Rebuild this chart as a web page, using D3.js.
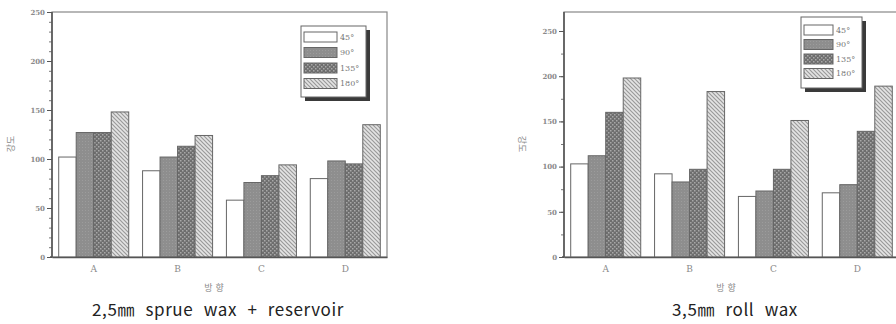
<!DOCTYPE html>
<html>
<head>
<meta charset="utf-8">
<script src="https://cdn.jsdelivr.net/npm/d3@7"></script>
<style>
	body { margin: 0; background: #fff; }
	svg { display: block; }
</style>
</head>
<body>
<div id="chart"></div>
<script>
// categories and series
const categories = ['A', 'B', 'C', 'D'];
const angles = ['45°', '90°', '135°', '180°'];

// 2.5mm sprue wax + reservoir
const sprue45 = [102, 88, 58, 80];
const sprue90 = [127, 102, 76, 98];
const sprue135 = [127, 113, 83, 95];
const sprue180 = [148, 124, 94, 135];

// 3.5mm roll wax
const roll45 = [103, 92, 67, 71];
const roll90 = [112, 83, 73, 80];
const roll135 = [160, 97, 97, 139];
const roll180 = [198, 183, 151, 189];

const yTicks = [0, 50, 100, 150, 200, 250];
const yTitle = '강도';
const xTitle = '방향';
const captions = ['2,5㎜ sprue wax + reservoir', '3,5㎜ roll wax'];

const svg = d3.select('#chart').append('svg')
	.attr('width', 896).attr('height', 324);

// fill patterns, one per angle
const defs = svg.append('defs');

let p = defs.append('pattern').attr('id', 'pat90').attr('patternUnits', 'userSpaceOnUse')
	.attr('width', 3).attr('height', 3);
p.append('rect').attr('width', 3).attr('height', 3).attr('fill', '#8e8e8e');
p.append('rect').attr('width', 1).attr('height', 1).attr('fill', '#9c9c9c');

p = defs.append('pattern').attr('id', 'pat135').attr('patternUnits', 'userSpaceOnUse')
	.attr('width', 4).attr('height', 4);
p.append('rect').attr('width', 4).attr('height', 4).attr('fill', '#6e6e6e');
p.append('rect').attr('x', 0).attr('y', 0).attr('width', 1.5).attr('height', 1.5).attr('fill', '#a8a8a8');
p.append('rect').attr('x', 2).attr('y', 2).attr('width', 1.5).attr('height', 1.5).attr('fill', '#a8a8a8');

p = defs.append('pattern').attr('id', 'pat180').attr('patternUnits', 'userSpaceOnUse')
	.attr('width', 4).attr('height', 4);
p.append('rect').attr('width', 4).attr('height', 4).attr('fill', '#e4e4e4');
p.append('path').attr('d', 'M-1,-1 L5,5 M-1,3 L1,5 M3,-1 L5,1')
	.attr('stroke', '#9a9a9a').attr('stroke-width', 1.2);

const fills = ['#ffffff', 'url(#pat90)', 'url(#pat135)', 'url(#pat180)'];

const charts = [
	{
		series: [sprue45, sprue90, sprue135, sprue180],
		left: 52, top: 12, width: 335, height: 245, max: 250, minor: 10,
		legend: { x: 301, y: 26, w: 65, h: 71, sw: 33, row: 15.5, first: 11 },
		yTitleX: 11, rotate: -90, caption: captions[0], captionX: 218,
	},
	{
		series: [roll45, roll90, roll135, roll180],
		left: 564, top: 12, width: 335, height: 245, max: 271, minor: 25,
		legend: { x: 801, y: 17, w: 61, h: 71, sw: 29, row: 14.5, first: 13 },
		yTitleX: 522, rotate: 90, caption: captions[1], captionX: 735,
	},
];

const ink = '#555';
const label = '#8a8a8a';

charts.forEach((c) => {
	const g = svg.append('g').attr('transform', `translate(${c.left}, ${c.top})`);

	const x = d3.scaleBand().domain(categories).range([0, c.width]).paddingInner(0.165).paddingOuter(0.08);
	const xs = d3.scaleBand().domain(angles).range([0, x.bandwidth()]);
	const y = d3.scaleLinear().domain([0, c.max]).range([c.height, 0]);

	// frame
	g.append('rect').attr('width', c.width).attr('height', c.height)
		.attr('fill', 'none').attr('stroke', '#888').attr('stroke-width', 1.2);

	// bars
	c.series.forEach((vals, si) => {
		g.append('g').selectAll('rect').data(vals).join('rect')
			.attr('x', (d, i) => x(categories[i]) + xs(angles[si]))
			.attr('y', (d) => y(d))
			.attr('width', xs.bandwidth())
			.attr('height', (d) => c.height - y(d))
			.attr('fill', fills[si])
			.attr('stroke', '#666').attr('stroke-width', 1);
	});

	// y axis
	const minorTicks = d3.range(0, c.max + 0.1, c.minor);
	const ax = g.append('g').call(d3.axisLeft(y).tickValues(minorTicks).tickSize(3).tickFormat(''));
	ax.select('.domain').remove();
	ax.selectAll('line').attr('stroke', '#777');
	const ay = g.append('g').call(d3.axisLeft(y).tickValues(yTicks).tickSize(5).tickPadding(2));
	ay.select('.domain').attr('stroke', ink).attr('stroke-width', 1.6);
	ay.selectAll('line').attr('stroke', ink);
	ay.selectAll('text').attr('fill', label).attr('font-size', 7)
		.attr('font-family', 'DejaVu Serif').attr('font-weight', 'bold');
	ay.select('.domain').attr('d', `M-2,${c.height}H0V0`);

	// x axis
	const axx = g.append('g').attr('transform', `translate(0, ${c.height})`)
		.call(d3.axisBottom(x).tickSize(0).tickPadding(9));
	axx.select('.domain').attr('stroke', ink).attr('stroke-width', 1.6);
	axx.selectAll('text').attr('fill', label).attr('font-size', 9)
		.attr('font-family', 'DejaVu Serif');

	// axis titles
	g.append('text')
		.attr('x', c.width / 2 - 4).attr('y', c.height + 34)
		.attr('text-anchor', 'middle').attr('fill', label)
		.attr('font-family', 'Noto Sans CJK KR').attr('font-size', 9)
		.attr('letter-spacing', 3)
		.text(xTitle);

	svg.append('text')
		.attr('transform', `translate(${c.yTitleX}, 144) rotate(${c.rotate})`)
		.attr('text-anchor', 'middle').attr('dy', '0.35em').attr('fill', label)
		.attr('font-family', 'Noto Sans CJK KR').attr('font-size', 9)
		.text(yTitle);

	// legend with drop shadow
	const L = c.legend;
	const lg = svg.append('g').attr('transform', `translate(${L.x}, ${L.y})`);
	lg.append('rect').attr('x', 4).attr('y', 4).attr('width', L.w).attr('height', L.h).attr('fill', '#3a3a3a');
	lg.append('rect').attr('width', L.w).attr('height', L.h).attr('fill', '#fff')
		.attr('stroke', '#666').attr('stroke-width', 1);
	angles.forEach((a, i) => {
		lg.append('rect').attr('x', 3).attr('y', L.first + i * L.row - 5)
			.attr('width', L.sw).attr('height', 10)
			.attr('fill', fills[i]).attr('stroke', '#666');
		lg.append('text').attr('x', L.sw + 6).attr('y', L.first + i * L.row)
			.attr('dy', '0.35em').attr('fill', '#777').attr('font-size', 8)
			.attr('font-family', 'DejaVu Serif')
			.text(a);
	});

	// caption
	svg.append('text').attr('x', c.captionX).attr('y', 316)
		.attr('text-anchor', 'middle').attr('fill', '#222')
		.attr('font-family', 'Noto Sans CJK KR').attr('font-size', 17)
		.attr('letter-spacing', 0.6).attr('word-spacing', 6)
		.text(c.caption);
});
</script>
</body>
</html>
